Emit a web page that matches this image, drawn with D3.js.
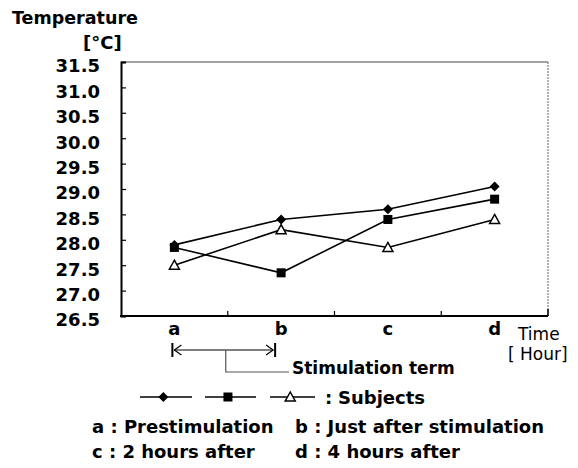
<!DOCTYPE html>
<html>
<head>
<meta charset="utf-8">
<script src="https://cdn.jsdelivr.net/npm/d3@7"></script>
<style>
  body { margin: 0; background: #fff; }
  svg { display: block; font-family: "DejaVu Sans", sans-serif; }
  .lbl { font-weight: bold; fill: #000; }
</style>
</head>
<body>
<svg id="chart" width="578" height="468"></svg>
<script>
// categories on the time axis
const times = ['a', 'b', 'c', 'd'];
const yTicks = [26.5, 27.0, 27.5, 28.0, 28.5, 29.0, 29.5, 30.0, 30.5, 31.0, 31.5];
// three subjects
const subjDiamond = [27.9, 28.4, 28.6, 29.05];
const subjSquare = [27.85, 27.35, 28.4, 28.8];
const subjTriangle = [27.5, 28.2, 27.85, 28.4];
const notes = [
  ['a : Prestimulation', 'b : Just after stimulation'],
  ['c : 2 hours after', 'd : 4 hours after']
];

const svg = d3.select('#chart');
const margin = { top: 62, left: 121, right: 548, bottom: 316 };

const x = d3.scaleBand().domain(times).range([margin.left, margin.right]);
const y = d3.scaleLinear().domain([26.5, 31.5]).range([margin.bottom, margin.top]);
const cx = d => x(d) + x.bandwidth() / 2;

// frame: thin top/right
svg.append('line').attr('x1', margin.left).attr('x2', margin.right)
  .attr('y1', margin.top).attr('y2', margin.top)
  .attr('stroke', '#444').attr('stroke-width', 1);
svg.append('line').attr('x1', margin.right).attr('x2', margin.right)
  .attr('y1', margin.top).attr('y2', margin.bottom)
  .attr('stroke', '#666').attr('stroke-width', 1).attr('stroke-dasharray', '2,1');

// y axis
const axisY = d3.axisLeft(y).tickValues(yTicks).tickFormat(d3.format('.1f'))
  .tickSize(-5).tickPadding(21);
const gy = svg.append('g').attr('transform', `translate(${margin.left},0)`).call(axisY);
gy.select('.domain').attr('stroke', '#000').attr('stroke-width', 2);
gy.selectAll('.tick line').attr('stroke', '#000').attr('stroke-width', 1.2);
gy.selectAll('.tick text').attr('class', 'lbl').attr('font-size', 18)
  .attr('font-family', '"DejaVu Sans", sans-serif').attr('dy', '0.55em');

// x axis: baseline with inward ticks on band boundaries
svg.append('line').attr('x1', margin.left - 1).attr('x2', margin.right)
  .attr('y1', margin.bottom).attr('y2', margin.bottom)
  .attr('stroke', '#000').attr('stroke-width', 2);
svg.selectAll('.xtick').data(times.slice(1)).join('line')
  .attr('x1', d => x(d)).attr('x2', d => x(d))
  .attr('y1', margin.bottom).attr('y2', margin.bottom - 5)
  .attr('stroke', '#000').attr('stroke-width', 1.2);
svg.append('line').attr('x1', margin.right).attr('x2', margin.right)
  .attr('y1', margin.bottom).attr('y2', margin.bottom - 7)
  .attr('stroke', '#000').attr('stroke-width', 1.5);
svg.selectAll('.xlab').data(times).join('text')
  .attr('class', 'lbl').attr('font-size', 18)
  .attr('x', d => cx(d)).attr('y', 335).attr('text-anchor', 'middle')
  .text(d => d);

// axis titles
svg.append('text').attr('class', 'lbl').attr('x', 12).attr('y', 24)
  .attr('font-size', 17.5).text('Temperature');
svg.append('text').attr('class', 'lbl').attr('x', 83).attr('y', 49)
  .attr('font-size', 18).text('[°C]');
svg.append('text').attr('x', 518).attr('y', 340)
  .attr('font-size', 17).text('Time');
svg.append('text').attr('x', 508).attr('y', 360)
  .attr('font-size', 17).text('[ Hour]');

// series
const series = [
  { vals: subjDiamond, mark: 'diamond' },
  { vals: subjSquare, mark: 'square' },
  { vals: subjTriangle, mark: 'triangle' }
];
const line = d3.line().x((d, i) => cx(times[i])).y(d => y(d));

function drawMark(g, kind, px, py) {
  if (kind === 'diamond') {
    g.append('path').attr('d', `M${px},${py - 5}L${px + 5},${py}L${px},${py + 5}L${px - 5},${py}Z`)
      .attr('fill', '#000');
  } else if (kind === 'square') {
    g.append('rect').attr('x', px - 4.5).attr('y', py - 4.5)
      .attr('width', 9).attr('height', 9).attr('fill', '#000');
  } else {
    g.append('path').attr('d', `M${px},${py - 5}L${px + 5},${py + 4}L${px - 5},${py + 4}Z`)
      .attr('fill', '#fff').attr('stroke', '#000').attr('stroke-width', 1.5);
  }
}

series.forEach(s => {
  svg.append('path').attr('d', line(s.vals))
    .attr('fill', 'none').attr('stroke', '#000').attr('stroke-width', 1.6);
});
series.forEach(s => {
  s.vals.forEach((v, i) => drawMark(svg, s.mark, cx(times[i]), y(v)));
});

// stimulation term arrow between a and b
const ax1 = cx('a') - 2, ax2 = cx('b') - 6, ay = 350;
const ann = svg.append('g').attr('stroke', '#000').attr('fill', 'none').attr('stroke-width', 1.2);
ann.append('line').attr('x1', ax1).attr('x2', ax1).attr('y1', ay - 7).attr('y2', ay + 7).attr('stroke-width', 2);
ann.append('line').attr('x1', ax2).attr('x2', ax2).attr('y1', ay - 7).attr('y2', ay + 7).attr('stroke-width', 2);
ann.append('line').attr('x1', ax1 + 2).attr('x2', ax2 - 2).attr('y1', ay).attr('y2', ay);
ann.append('path').attr('d', `M${ax1 + 9},${ay - 5}L${ax1 + 2},${ay}L${ax1 + 9},${ay + 5}`);
ann.append('path').attr('d', `M${ax2 - 9},${ay - 5}L${ax2 - 2},${ay}L${ax2 - 9},${ay + 5}`);
const bx = x('b');
ann.append('path').attr('d', `M${bx - 2},${ay}V${ay + 22}H${289}`).attr('stroke', '#555');
svg.append('text').attr('class', 'lbl').attr('x', 292).attr('y', 374).attr('font-size', 17)
  .text('Stimulation term');

// legend row
const ly = 397;
const legItems = [
  { mark: 'diamond', x1: 140, x2: 192 },
  { mark: 'square', x1: 205, x2: 256 },
  { mark: 'triangle', x1: 270, x2: 315 }
];
legItems.forEach(l => {
  svg.append('line').attr('x1', l.x1).attr('x2', l.x2).attr('y1', ly).attr('y2', ly)
    .attr('stroke', '#000').attr('stroke-width', 1.6);
  drawMark(svg, l.mark, l.x1 + (l.x2 - l.x1) * 0.45, ly);
});
svg.append('text').attr('class', 'lbl').attr('x', 325).attr('y', 404).attr('font-size', 18)
  .text(':');
svg.append('text').attr('class', 'lbl').attr('x', 338).attr('y', 404).attr('font-size', 18)
  .text('Subjects');

// footnotes
const noteX = [92, 295];
notes.forEach((row, r) => {
  row.forEach((t, c) => {
    svg.append('text').attr('class', 'lbl').attr('x', noteX[c])
      .attr('y', 433 + r * 25).attr('font-size', 18).text(t);
  });
});
</script>
</body>
</html>
